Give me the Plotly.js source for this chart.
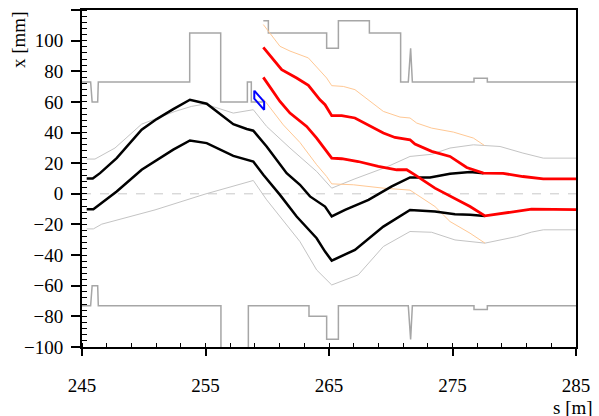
<!DOCTYPE html>
<html>
<head>
<meta charset="utf-8">
<script src="https://cdn.plot.ly/plotly-3.0.1.min.js"></script>
<style>html,body{margin:0;padding:0;background:#fff;}#chart{width:599px;height:416px;}</style>
</head>
<body>
<div id="chart"></div>
<script>
// ---- data (s in m, x in mm) ----
var apUpS = [244.75, 245.7, 245.82, 246.27, 246.32, 253.72, 253.72, 256.23, 256.23, 258.39, 258.39, 258.71, 258.71, 259.68, null, 259.68, 260.09, 260.09, 264.81, 264.81, 265.76, 265.76, 268.27, 268.27, 270.8, 270.8, 271.42, 271.61, 271.75, 276.74, 276.74, 277.82, 277.82, 285.4];
var apUpX = [73, 73, 60, 60, 73, 73, 105, 105, 60, 60, 73, 73, 60, 60, null, 113, 113, 105, 105, 95, 95, 113, 113, 105, 105, 73, 73, 95, 73, 73, 75.5, 75.5, 73, 73];

var apLoS = [244.75, 245.7, 245.82, 246.27, 246.32, 256.25, 256.25, 258.47, 258.47, 263.38, 263.38, 264.81, 264.81, 265.76, 265.76, 271.42, 271.61, 271.75, 276.74, 276.74, 277.82, 277.82, 285.4];
var apLoX = [-73, -73, -60, -60, -73, -73, -125, -125, -73, -73, -80, -80, -95, -95, -73, -73, -95, -73, -73, -75.5, -75.5, -73, -73];

var envUpS = [245.38, 246.05, 247.67, 249.83, 252.53, 253.88, 254.96, 256.17, 257.25, 258.87, 259.95, 261.84, 264.0, 265.22, 267.1, 269.67, 271.56, 273.31, 274.8, 276.69, 278.85, 280.7, 282.35, 285.3];
var envUpX = [22.7, 22.7, 29.9, 45.5, 53.8, 57.1, 58.6, 55.6, 52.7, 54.9, 44, 29.9, 14.6, 3.7, 9.8, 17.5, 24.4, 25.8, 29.9, 32, 30.9, 26.6, 23.3, 23.3];

var envLoS = [245.38, 245.92, 246.6, 250.91, 254.96, 258.87, 259.95, 262.65, 264.0, 265.22, 267.37, 269.4, 271.56, 273.31, 275.2, 277.63, 280.2, 281.4, 282.35, 285.3];
var envLoX = [-22.9, -22.9, -19.8, -10.5, -0.2, 8.7, -3.9, -31.2, -49.7, -59.5, -52.9, -34.4, -24.6, -25.1, -30.1, -32.2, -27.9, -25.0, -23.5, -23.5];

var orUpS = [259.68, 261.03, 261.84, 263.33, 264.81, 265.22, 266.16, 267.1, 269.4, 270.75, 271.56, 272.1, 273.31, 275.07, 276.69, 277.58];
var orUpX = [110.5, 96.3, 93.2, 88.7, 75.6, 70.6, 70.1, 68, 53.8, 50.1, 49.5, 46.2, 42.9, 40.3, 36.4, 31.6];

var orLoS = [259.68, 261.3, 262.65, 264.0, 264.81, 265.22, 266.97, 269.4, 271.56, 273.58, 274.8, 276.42, 277.63];
var orLoX = [62, 45, 33.5, 19, 11.3, 6.5, 5.9, 3.7, 2.4, -8.3, -18.1, -25.7, -32.2];

var beamUpS = [245.38, 245.87, 246.46, 247.81, 249.83, 251.05, 252.39, 253.74, 255.1, 257.25, 258.34, 258.87, 259.95, 261.57, 262.65, 263.46, 264.68, 265.22, 266.3, 268.2, 270.08, 271.56, 273.18, 274.8, 276.42, 277.5];
var beamUpX = [10, 10, 13.5, 23.3, 41.8, 48.8, 55.3, 61.4, 58.8, 45.5, 42.3, 41.2, 30.9, 13.5, 5.9, -1.7, -8.3, -14.8, -10.5, -3.9, 4.8, 10.7, 10.7, 13.1, 14.2, 13.5];

var beamLoS = [245.38, 245.92, 247.81, 249.83, 252.39, 253.74, 255.1, 257.25, 258.87, 259.68, 261.03, 262.38, 264.0, 264.68, 265.22, 267.1, 269.4, 271.56, 273.58, 275.2, 276.42, 277.63];
var beamLoX = [-10, -10, 1.5, 15.7, 28.8, 34.8, 33.1, 24.8, 21.1, 12.4, -0.7, -14.8, -29, -37.7, -43.6, -36.6, -21.4, -10.5, -11.5, -13.3, -13.7, -14.4];

var redUpS = [259.68, 261.17, 262.38, 263.33, 264.27, 264.68, 265.22, 266.03, 267.1, 269.4, 270.34, 271.56, 271.96, 273.31, 274.8, 276.15, 277.5, 279.1, 280.7, 282.35, 285.3];
var redUpX = [95.6, 81, 75.6, 70.8, 61.4, 58.2, 51, 51, 49.5, 39.7, 36.8, 35.3, 32.5, 27.7, 24.4, 17.2, 13.5, 13.3, 11.3, 9.8, 9.8];

var redLoS = [259.68, 261.03, 261.84, 263.19, 264.0, 264.54, 265.22, 266.03, 267.37, 268.99, 270.48, 271.29, 271.96, 273.58, 275.0, 276.42, 277.63, 279.1, 281.4, 285.3];
var redLoX = [76, 60.3, 52.7, 44, 36.4, 30.9, 23.3, 22.9, 21.1, 17.9, 15.7, 15.7, 12.4, 3.7, -2.5, -8.3, -14.4, -12.6, -10, -10.3];

var blueS = [258.95, 258.95, 259.75, 259.75, 258.95];
var blueX = [67.4, 62.2, 54.8, 60.1, 67.4];

var zeroS = [245, 285];
var zeroX = [0, 0];

var xTickVals = [245, 255, 265, 275, 285];
var yTickVals = [-100, -80, -60, -40, -20, 0, 20, 40, 60, 80, 100, 120];

// ---- traces ----
function ln(xs, ys, color, width, dash) {
  var line = {color: color, width: width};
  if (dash) line.dash = dash;
  return {x: xs, y: ys, type: 'scatter', mode: 'lines', hoverinfo: 'skip', showlegend: false, line: line};
}
var traces = [
  ln(zeroS, zeroX, '#c8c8c8', 1, 'dash'),
  ln(apUpS, apUpX, '#a6a6a6', 1.5),
  ln(apLoS, apLoX, '#a6a6a6', 1.5),
  ln(envUpS, envUpX, '#c4c4c4', 1),
  ln(envLoS, envLoX, '#c4c4c4', 1),
  ln(orUpS, orUpX, '#ffc894', 1),
  ln(orLoS, orLoX, '#ffc894', 1),
  ln(beamUpS, beamUpX, '#000000', 2.5),
  ln(beamLoS, beamLoX, '#000000', 2.5),
  ln(redUpS, redUpX, '#ff0000', 2.8),
  ln(redLoS, redLoX, '#ff0000', 2.8),
  ln(blueS, blueX, '#0000ff', 2)
];

var FAM = 'Liberation Serif';
var layout = {
  width: 599, height: 416,
  margin: {l: 82, r: 23, t: 10, b: 69},
  showlegend: false,
  xaxis: {
    range: [245, 285], tickvals: xTickVals,
    showgrid: false, zeroline: false, showline: true, linecolor: '#000000', linewidth: 2,
    mirror: true,
    ticks: 'outside', ticklen: 7, tickwidth: 1.5, tickcolor: '#000000',
    ticklabelstandoff: 13,
    tickfont: {family: FAM, size: 19, color: '#000000'},
    minor: {dtick: 2, tick0: 245, ticks: 'inside', ticklen: 4, tickwidth: 1, tickcolor: '#000000'}
  },
  yaxis: {
    range: [-100, 120], tickvals: yTickVals,
    showgrid: false, zeroline: false, showline: true, linecolor: '#000000', linewidth: 2,
    mirror: true,
    ticks: 'outside', ticklen: 9, tickwidth: 1.5, tickcolor: '#000000',
    ticklabelstandoff: 4,
    tickfont: {family: FAM, size: 19, color: '#000000'},
    minor: {dtick: 4, tick0: 0, ticks: 'inside', ticklen: 5, tickwidth: 1, tickcolor: '#000000'}
  },
  annotations: [
    {text: 'x [mm]', xref: 'paper', yref: 'paper', x: 0, y: 1, xshift: -64,
     xanchor: 'center', yanchor: 'top', textangle: -90, showarrow: false,
     font: {family: FAM, size: 19, color: '#000000'}},
    {text: 's [m]', xref: 'paper', yref: 'paper', x: 1, y: 0, yshift: -60, xshift: -3,
     xanchor: 'center', yanchor: 'middle', showarrow: false,
     font: {family: FAM, size: 19, color: '#000000'}}
  ]
};

Plotly.newPlot('chart', traces, layout, {displayModeBar: false});
</script>
</body>
</html>
